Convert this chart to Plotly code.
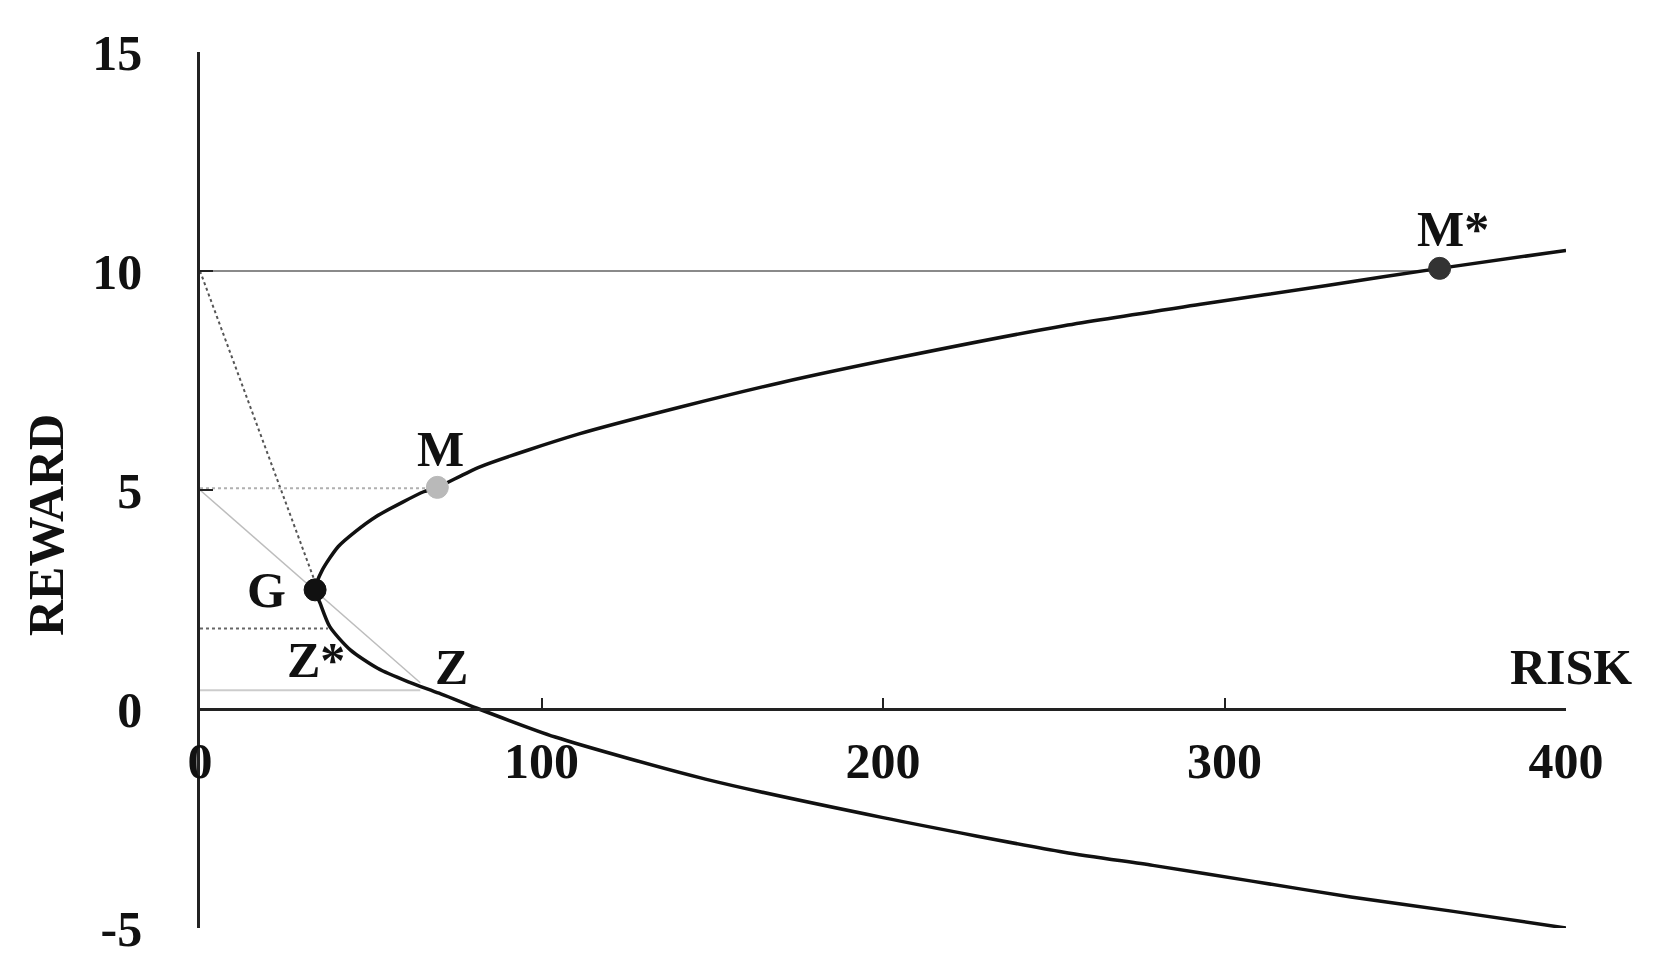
import plotly.graph_objects as go

# ---- data ----
# efficient / inefficient frontier (lower branch end -> vertex -> upper branch end)
frontier_risk = [400, 367, 337, 308, 279, 253, 200, 148, 104, 80, 70, 61, 52, 44, 38, 35.2,
                 33.7,
                 35.8, 40.5, 45.5, 51.5, 59.5, 65.5, 69.5, 82, 111, 141, 170, 205, 253, 294, 330, 363, 400]
frontier_reward = [-5.0, -4.62, -4.29, -3.93, -3.57, -3.27, -2.48, -1.6, -0.64, 0.05, 0.36, 0.62, 0.93, 1.35, 1.88, 2.41,
                   2.72,
                   3.17, 3.71, 4.05, 4.39, 4.73, 4.96, 5.06, 5.53, 6.28, 6.9, 7.45, 8.03, 8.75, 9.25, 9.67, 10.06, 10.47]

point_names = ["G", "M", "M*"]
point_risk = [33.7, 69.5, 363]
point_reward = [2.72, 5.06, 10.06]
point_colors = ["#111111", "#b9b9b9", "#333333"]

label_text = ["M*", "M", "G", "Z*", "Z"]
label_risk = [367, 70.4, 19.6, 34, 73.6]
label_reward = [10.96, 5.94, 2.72, 1.11, 0.97]

# guide lines
line10_risk, line10_reward = [0, 363], [10, 10]
cml_risk, cml_reward = [0, 33.7], [10, 2.9]
line5_risk, line5_reward = [0, 69.5], [5.04, 5.04]
zline_risk, zline_reward = [0, 64.5], [5, 0.6]
zstar_risk, zstar_reward = [0, 37.5], [1.84, 1.84]
zh_risk, zh_reward = [0, 64.5], [0.43, 0.43]

x_ticks = [0, 100, 200, 300, 400]
y_ticks = [-5, 0, 5, 10, 15]

FONT = "Liberation Serif"

fig = go.Figure()

def guide(x, y, color, width, dash):
    fig.add_trace(go.Scatter(x=x, y=y, mode="lines", hoverinfo="skip",
                             line=dict(color=color, width=width, dash=dash), showlegend=False))

guide(line10_risk, line10_reward, "#8a8a8a", 2, "solid")
guide(cml_risk, cml_reward, "#555555", 2, "dot")
guide(line5_risk, line5_reward, "#b0b0b0", 2, "dot")
guide(zline_risk, zline_reward, "#bdbdbd", 1.5, "solid")
guide(zstar_risk, zstar_reward, "#666666", 2, "dot")
guide(zh_risk, zh_reward, "#cccccc", 2, "solid")

fig.add_trace(go.Scatter(x=frontier_risk, y=frontier_reward, mode="lines",
                         line=dict(color="#111111", width=3.5, shape="spline", smoothing=0.7),
                         showlegend=False))

fig.add_trace(go.Scatter(x=point_risk, y=point_reward, mode="markers", text=point_names,
                         marker=dict(size=22, color=point_colors,
                                     line=dict(color=point_colors, width=1)),
                         showlegend=False))

for t, xr, yr in zip(label_text, label_risk, label_reward):
    fig.add_annotation(x=xr, y=yr, xref="x", yref="y", text=t, showarrow=False,
                       xanchor="center", yanchor="middle",
                       font=dict(family=FONT, size=50, color="#111111", weight="bold"))

fig.add_annotation(x=1.0, y=0.25, xref="paper", yref="paper", text="RISK", showarrow=False,
                   xanchor="center", yanchor="bottom", xshift=5, yshift=12,
                   font=dict(family=FONT, size=50, color="#111111", weight="bold"))

fig.add_annotation(x=0, y=0.46, xref="paper", yref="paper", text="REWARD", showarrow=False,
                   textangle=-90, xanchor="center", yanchor="middle", xshift=-154,
                   font=dict(family=FONT, size=50, color="#111111", weight="bold"))

# the page body adds an 8px offset, so the figure is 8px smaller and margins compensate
fig.update_layout(
    width=1650, height=968,
    margin=dict(l=192, r=92, t=44, b=48),
    paper_bgcolor="white", plot_bgcolor="white",
    font=dict(family=FONT, size=50, color="#111111"),
    xaxis=dict(range=[0, 400], tickvals=x_ticks, ticktext=[str(v) for v in x_ticks],
               showgrid=False, zeroline=False, showline=True, linecolor="#222222", linewidth=2.5,
               ticks="inside", ticklen=10, tickwidth=2, tickcolor="#222222",
               anchor="free", position=0.25, ticklabelstandoff=7,
               tickfont=dict(family=FONT, size=50, color="#111111", weight="bold")),
    yaxis=dict(range=[-5, 15], tickvals=y_ticks, ticktext=[str(v) for v in y_ticks],
               showgrid=False, zeroline=False, showline=True, linecolor="#222222", linewidth=2.5,
               ticks="inside", ticklen=13, tickwidth=2, tickcolor="#222222",
               ticklabelstandoff=45,
               tickfont=dict(family=FONT, size=50, color="#111111", weight="bold")),
)

fig.write_html("out.html")
